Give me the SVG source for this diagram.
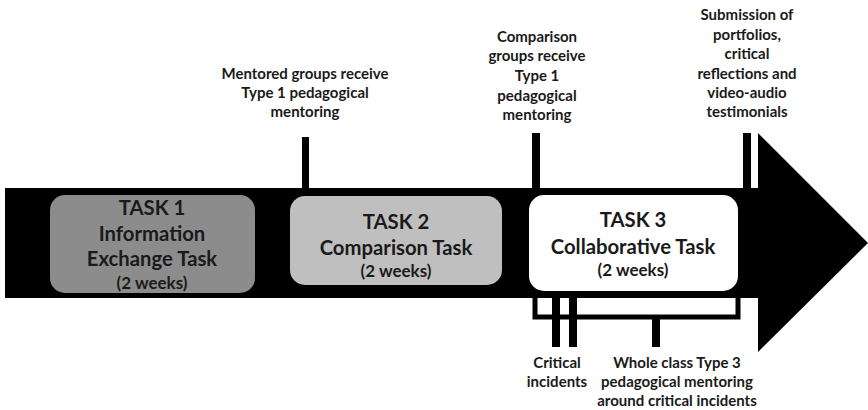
<svg xmlns="http://www.w3.org/2000/svg" width="868" height="410" viewBox="0 0 868 410">
<style>
text{font-family:Lato,"Open Sans","Liberation Sans",sans-serif;font-weight:bold;fill:#1a1a1a;text-anchor:middle}
.lbl{font-size:15px}
.t{font-size:20.3px}
.w{font-size:17px}
.box{stroke:none}
</style>
<rect width="868" height="410" fill="#ffffff"/>
<g id="arrow">
<polygon points="5,188 758,188 758,133 868,243 758,352 758,298 5,298" fill="#000"/>
</g>
<g id="connectors" fill="#000">
<rect x="302" y="137" width="7" height="52"/>
<rect x="532" y="133" width="8" height="56"/>
<rect x="743" y="133" width="8" height="56"/>
<rect x="751" y="133" width="7" height="55" fill="#fff"/>
<path d="M535,297 V317 H738 V297" fill="none" stroke="#000" stroke-width="5"/>
<rect x="552" y="297" width="8" height="50"/>
<rect x="569" y="297" width="8" height="50"/>
<rect x="652" y="315" width="8" height="32"/>
</g>
<g id="task1">
<rect class="box" x="50" y="195" width="205" height="98" rx="15" fill="#8c8c8c"/>
<text class="t" x="152" y="215">TASK 1</text>
<text class="t" x="152" y="241">Information</text>
<text class="t" x="152" y="266">Exchange Task</text>
<text class="w" x="152" y="289">(2 weeks)</text>
</g>
<g id="task2">
<rect class="box" x="290" y="196" width="212" height="89" rx="15" fill="#bfbfbf"/>
<text class="t" x="396" y="229">TASK 2</text>
<text class="t" x="396" y="255">Comparison Task</text>
<text class="w" x="396" y="277">(2 weeks)</text>
</g>
<g id="task3">
<rect class="box" x="529" y="195" width="209" height="96" rx="15" fill="#ffffff"/>
<text class="t" x="633" y="227">TASK 3</text>
<text class="t" x="633" y="254">Collaborative Task</text>
<text class="w" x="633" y="276">(2 weeks)</text>
</g>
<g id="mentored">
<text class="lbl" x="305" y="79">Mentored groups receive</text>
<text class="lbl" x="305" y="98">Type 1 pedagogical</text>
<text class="lbl" x="305" y="117">mentoring</text>
</g>
<g id="comparison">
<text class="lbl" x="537" y="42">Comparison</text>
<text class="lbl" x="537" y="61">groups receive</text>
<text class="lbl" x="537" y="81">Type 1</text>
<text class="lbl" x="537" y="101">pedagogical</text>
<text class="lbl" x="537" y="120">mentoring</text>
</g>
<g id="submission">
<text class="lbl" x="747" y="20">Submission of</text>
<text class="lbl" x="747" y="40">portfolios,</text>
<text class="lbl" x="747" y="59">critical</text>
<text class="lbl" x="747" y="79">reflections and</text>
<text class="lbl" x="747" y="98">video-audio</text>
<text class="lbl" x="747" y="117">testimonials</text>
</g>
<g id="critical">
<text class="lbl" x="557" y="368">Critical</text>
<text class="lbl" x="557" y="387">incidents</text>
</g>
<g id="wholeclass">
<text class="lbl" x="677" y="368">Whole class Type 3</text>
<text class="lbl" x="677" y="387">pedagogical mentoring</text>
<text class="lbl" x="677" y="406">around critical incidents</text>
</g>
</svg>
